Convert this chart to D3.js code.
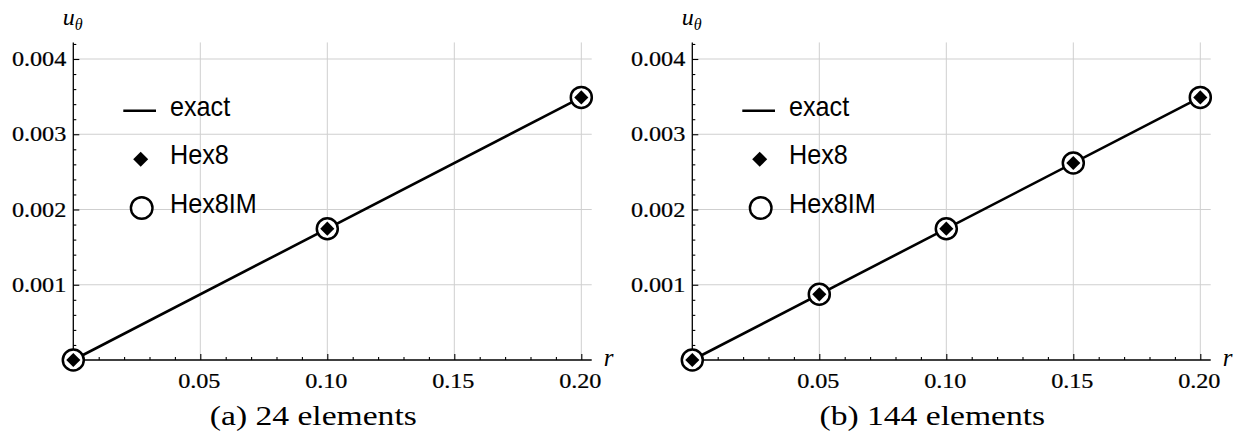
<!DOCTYPE html>
<html><head><meta charset="utf-8">
<script src="https://cdn.jsdelivr.net/npm/d3@7"></script>
<style>body{margin:0;background:#fff} svg{display:block}</style>
</head><body>
<svg id="c" width="1242" height="443"></svg>
<script>
// ---- data ----
const xTicks = [0.05, 0.10, 0.15, 0.20];
const xTickLabels = ["0.05", "0.10", "0.15", "0.20"];
const xMinor = [0.01,0.02,0.03,0.04,0.06,0.07,0.08,0.09,0.11,0.12,0.13,0.14,0.16,0.17,0.18,0.19];
const yTicks = [0.001, 0.002, 0.003, 0.004];
const yTickLabels = ["0.001", "0.002", "0.003", "0.004"];
const yMinor = [0.0002,0.0004,0.0006,0.0008,0.0012,0.0014,0.0016,0.0018,0.0022,0.0024,0.0026,0.0028,0.0032,0.0034,0.0036,0.0038,0.0042];
const exactR = [0, 0.2];
const exactU = [0, 0.00349];
const rA = [0, 0.1, 0.2];
const hex8A = [0, 0.001745, 0.00349];
const hex8imA = [0, 0.001745, 0.00349];
const rB = [0, 0.05, 0.1, 0.15, 0.2];
const hex8B = [0, 0.000873, 0.001745, 0.002618, 0.00349];
const hex8imB = [0, 0.000873, 0.001745, 0.002618, 0.00349];
const legendLabels = ["exact", "Hex8", "Hex8IM"];
const captions = ["(a) 24 elements", "(b) 144 elements"];

const svg = d3.select("#c");
const SERIF = "Liberation Serif";
const SANS = "Liberation Sans";

const y = d3.scaleLinear().domain([0, 0.004]).range([360, 59]);
const X_END = 0.2041, Y_END = 0.00422;

function panel(ox, rs, hex8, hex8im, caption) {
  const x = d3.scaleLinear().domain([0, 0.2]).range([ox, ox + 508]);
  const g = svg.append("g");

  // grid
  g.append("g").selectAll("line").data(xTicks).join("line")
    .attr("x1", d => x(d)).attr("x2", d => x(d))
    .attr("y1", y(0)).attr("y2", y(Y_END))
    .attr("stroke", "#cfcfcf").attr("stroke-width", 1);
  g.append("g").selectAll("line").data(yTicks).join("line")
    .attr("x1", x(0)).attr("x2", x(X_END))
    .attr("y1", d => y(d)).attr("y2", d => y(d))
    .attr("stroke", "#cfcfcf").attr("stroke-width", 1);

  // axes ticks (major + minor) from d3 axes
  [[xTicks, -6], [xMinor, -3]].forEach(([vals, sz]) => {
    g.append("g").attr("transform", `translate(0,${y(0)})`)
      .call(d3.axisBottom(x).tickValues(vals).tickSize(sz).tickFormat(""))
      .call(a => a.select(".domain").remove())
      .call(a => a.selectAll("text").remove());
  });
  [[yTicks, -6], [yMinor, -3]].forEach(([vals, sz]) => {
    g.append("g").attr("transform", `translate(${x(0)},0)`)
      .call(d3.axisLeft(y).tickValues(vals).tickSize(sz).tickFormat(""))
      .call(a => a.select(".domain").remove())
      .call(a => a.selectAll("text").remove());
  });
  g.selectAll(".tick line").attr("stroke", "#000").attr("stroke-width", 1.1);

  // tick labels
  g.append("g").selectAll("text").data(xTicks).join("text")
    .attr("transform", d => `translate(${x(d) - 1},388) scale(1.1,1)`)
    .attr("text-anchor", "middle")
    .attr("font-family", SERIF).attr("font-size", 22).attr("fill", "#000")
    .attr("stroke", "#000").attr("stroke-width", 0.25)
    .text((d, i) => xTickLabels[i]);
  g.append("g").selectAll("text").data(yTicks).join("text")
    .attr("transform", d => `translate(${x(0) - 7},${y(d) + 7}) scale(1.1,1)`)
    .attr("text-anchor", "end")
    .attr("font-family", SERIF).attr("font-size", 22).attr("fill", "#000")
    .attr("stroke", "#000").attr("stroke-width", 0.25)
    .text((d, i) => yTickLabels[i]);

  // axis lines
  g.append("line").attr("x1", x(0)).attr("x2", x(X_END)).attr("y1", y(0)).attr("y2", y(0))
    .attr("stroke", "#000").attr("stroke-width", 1.3);
  g.append("line").attr("x1", x(0)).attr("x2", x(0)).attr("y1", y(0)).attr("y2", y(Y_END))
    .attr("stroke", "#000").attr("stroke-width", 1.3);

  // axis labels
  const ul = g.append("text").attr("x", x(0) - 10.5).attr("y", 25)
    .attr("font-family", SERIF).attr("font-style", "italic").attr("font-size", 24);
  ul.append("tspan").text("u");
  ul.append("tspan").attr("font-size", 16).attr("dy", 5).text("θ");
  g.append("text").attr("x", x(X_END) + 12).attr("y", 366)
    .attr("font-family", SERIF).attr("font-style", "italic").attr("font-size", 25).text("r");

  // exact line
  const line = d3.line().x(d => x(d[0])).y(d => y(d[1]));
  g.append("path").datum(exactR.map((r, i) => [r, exactU[i]]))
    .attr("d", line).attr("fill", "none").attr("stroke", "#000").attr("stroke-width", 2.6);

  // Hex8IM circles
  g.append("g").selectAll("circle").data(rs.map((r, i) => [r, hex8im[i]])).join("circle")
    .attr("cx", d => x(d[0])).attr("cy", d => y(d[1])).attr("r", 10.5)
    .attr("fill", "#fff").attr("stroke", "#000").attr("stroke-width", 2.5);
  // Hex8 diamonds
  const diamond = d3.symbol(d3.symbolSquare, 100);
  g.append("g").selectAll("path").data(rs.map((r, i) => [r, hex8[i]])).join("path")
    .attr("d", diamond)
    .attr("transform", d => `translate(${x(d[0])},${y(d[1])}) rotate(45)`)
    .attr("fill", "#000");

  // legend
  const lg = g.append("g").attr("transform", `translate(${ox},0)`);
  lg.append("line").attr("x1", 50).attr("x2", 82.7).attr("y1", 110.7).attr("y2", 110.7)
    .attr("stroke", "#000").attr("stroke-width", 2.6);
  lg.append("path").attr("d", d3.symbol(d3.symbolSquare, 112)())
    .attr("transform", "translate(67.4,159.3) rotate(45)").attr("fill", "#000");
  lg.append("circle").attr("cx", 68.4).attr("cy", 208).attr("r", 10.8)
    .attr("fill", "#fff").attr("stroke", "#000").attr("stroke-width", 2.4);
  const ly = [115.5, 163.5, 212.5];
  lg.selectAll("text.leg").data(legendLabels).join("text").attr("class", "leg")
    .attr("transform", (d, i) => `translate(96.7,${ly[i]}) scale(0.9,1)`)
    .attr("font-family", SANS).attr("font-size", 28).text(d => d);

  // caption
  g.append("text").attr("transform", `translate(${ox + 240},425) scale(1.2,1)`)
    .attr("text-anchor", "middle")
    .attr("font-family", SERIF).attr("font-size", 28).text(caption);
}

panel(73.3, rA, hex8A, hex8imA, captions[0]);
panel(692.3, rB, hex8B, hex8imB, captions[1]);
</script>
</body></html>
